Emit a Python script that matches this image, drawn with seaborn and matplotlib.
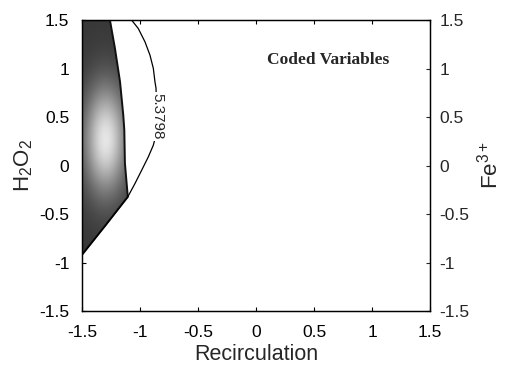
import numpy as np
import pandas as pd
import matplotlib
matplotlib.use("Agg")
import matplotlib.pyplot as plt
import seaborn as sns
from matplotlib.patches import Polygon

# ---- data ----
tick_values = [-1.5, -1, -0.5, 0, 0.5, 1, 1.5]
tick_labels = ["-1.5", "-1", "-0.5", "0", "0.5", "1", "1.5"]

# contour line 5.3798 (x, y)
contour_x = [-1.072, -1.015, -0.957, -0.914, -0.885, -0.871, -0.862, -0.855,
             -0.870, -0.885, -0.928, -0.985, -1.043, -1.105, -1.30, -1.5]
contour_y = [1.5, 1.414, 1.276, 1.139, 1.002, 0.864, 0.799, 0.50,
             0.28, 0.211, 0.091, -0.046, -0.184, -0.322, -0.62, -0.92]
contour_level = "5.3798"

# shaded region boundary (right edge from top to bottom, then lower edge)
region_x = [-1.5, -1.259, -1.216, -1.172, -1.144, -1.135, -1.13, -1.105, -1.30, -1.5]
region_y = [1.5, 1.5, 1.21, 0.864, 0.52, 0.366, 0.026, -0.322, -0.62, -0.92]

annotation = "Coded Variables"
xlabel = "Recirculation"
ylabel_left = "H$_2$O$_2$"
ylabel_right = "Fe$^{3+}$"

# ---- style ----
sns.set_style("ticks")
plt.rcParams["font.family"] = ["Liberation Sans", "DejaVu Sans"]
plt.rcParams["mathtext.fontset"] = "custom"
plt.rcParams["mathtext.rm"] = "Liberation Sans"
plt.rcParams["mathtext.it"] = "Liberation Sans"
plt.rcParams["mathtext.default"] = "regular"

fig = plt.figure(figsize=(5.06, 3.66), dpi=100)
ax = fig.add_axes([0.162, 0.150, 0.688, 0.795])

# shaded region with radial gradient clipped to polygon
poly = Polygon(np.column_stack([region_x, region_y]), closed=True,
               facecolor="none", edgecolor="#111111", linewidth=1.4, zorder=3)
ax.add_patch(poly)
gx = np.linspace(-1.5, -1.0, 200)
gy = np.linspace(-1.5, 1.5, 600)
GX, GY = np.meshgrid(gx, gy)
shade = 0.22 + 0.68 * np.exp(-((GX + 1.30) / 0.18) ** 2 - ((GY - 0.27) / 0.55) ** 2)
img = ax.imshow(shade, extent=[-1.5, -1.0, -1.5, 1.5], origin="lower",
                cmap="gray", vmin=0, vmax=1, aspect="auto", zorder=2,
                interpolation="bilinear")
img.set_clip_path(poly)

# contour line
cdf = pd.DataFrame({"x": contour_x, "y": contour_y})
sns.lineplot(data=cdf, x="x", y="y", sort=False, estimator=None,
             color="black", linewidth=0.9, ax=ax, zorder=4)
ax.text(-0.85, 0.51, contour_level, rotation=-90, fontsize=11,
        ha="center", va="center", zorder=5,
        bbox=dict(facecolor="white", edgecolor="none", pad=1.0))

ax.text(0.62, 1.09, annotation, fontsize=12.5, fontweight="bold",
        family=["Liberation Serif", "DejaVu Serif"], ha="center", va="center")

ax.set_xlim(-1.5, 1.5)
ax.set_ylim(-1.5, 1.5)
ax.set_xticks(tick_values)
ax.set_xticklabels(tick_labels)
ax.set_yticks(tick_values)
ax.set_yticklabels(tick_labels)
ax.set_xlabel(xlabel, fontsize=15.5, labelpad=3)
ax.set_ylabel(ylabel_left, fontsize=16, labelpad=3)
ax.tick_params(direction="in", length=3, width=0.8, labelsize=12.5,
               top=True, right=False, colors="black")
ax.tick_params(axis="x", pad=10)
ax.tick_params(axis="y", pad=9)

ax2 = ax.twinx()
ax2.set_ylim(-1.5, 1.5)
ax2.set_yticks(tick_values)
ax2.set_yticklabels(tick_labels)
ax2.set_ylabel(ylabel_right, fontsize=16, labelpad=5)
ax2.tick_params(direction="in", length=3, width=0.8, labelsize=12.5, pad=6.5)

for a in (ax, ax2):
    for s in a.spines.values():
        s.set_visible(True)
        s.set_linewidth(0.9)
        s.set_color("black")

fig.savefig("out.png", dpi=100)
